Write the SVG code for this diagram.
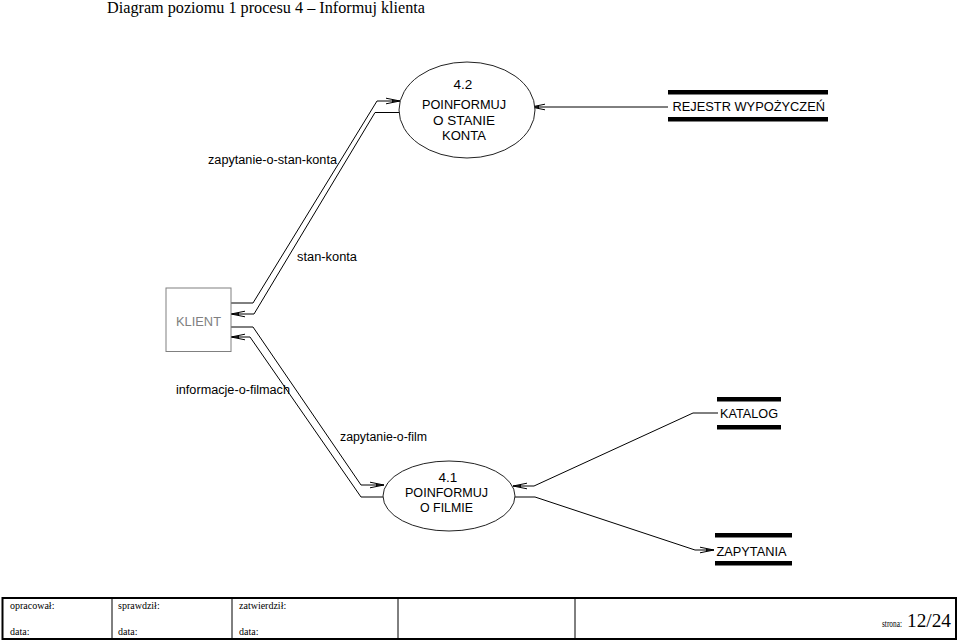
<svg xmlns="http://www.w3.org/2000/svg" width="960" height="641" viewBox="0 0 960 641">
<style>
.lbl{font-family:"Liberation Sans",Arial,sans-serif;font-size:12px;fill:#000}
.nt{font-family:"Liberation Sans",Arial,sans-serif;font-size:13.5px;fill:#000;text-anchor:middle}
.st{font-family:"Liberation Sans",Arial,sans-serif;font-size:12.5px;fill:#000}
.ft{font-family:"Liberation Serif","Times New Roman",serif;font-size:10px;fill:#000}
.flow{fill:none;stroke:#000;stroke-width:1}
.bar{fill:#000}
.proc{fill:#fff;stroke:#222;stroke-width:1}
</style>
<defs>
<marker id="arr" markerUnits="userSpaceOnUse" markerWidth="16" markerHeight="8" viewBox="0 0 16 8" refX="15" refY="4" orient="auto">
<path d="M1,1.2 L15,4 L1,6.8" fill="none" stroke="#000" stroke-width="1"/>
<path d="M7,3 L15,4 L7,5 z" fill="#000"/>
</marker>
</defs>
<rect width="960" height="641" fill="#fff"/>
<text x="107" y="13" font-family="'Liberation Serif','Times New Roman',serif" font-size="16" fill="#000" textLength="318" lengthAdjust="spacingAndGlyphs">Diagram poziomu 1 procesu 4 – Informuj klienta</text>

<g id="connectors">
<polyline class="flow" points="231,303 253,303 377,101 400,101" marker-end="url(#arr)"/>
<polyline class="flow" points="400,112.5 375,112.5 254,314 231,314" marker-end="url(#arr)"/>
<polyline class="flow" points="231,327 253,327 361,485 384,485" marker-end="url(#arr)"/>
<polyline class="flow" points="385,497 361,497 250,337 231,337" marker-end="url(#arr)"/>
<polyline class="flow" points="668,107 531,107" marker-end="url(#arr)"/>
<polyline class="flow" points="718,413 693,413 534,486 513,486" marker-end="url(#arr)"/>
<polyline class="flow" points="513,497 535,497 695,550 714,550" marker-end="url(#arr)"/>
<text class="lbl" x="208" y="164" textLength="129" lengthAdjust="spacingAndGlyphs">zapytanie-o-stan-konta</text>
<text class="lbl" x="297" y="261" textLength="60" lengthAdjust="spacingAndGlyphs">stan-konta</text>
<text class="lbl" x="176" y="394" textLength="114" lengthAdjust="spacingAndGlyphs">informacje-o-filmach</text>
<text class="lbl" x="340" y="441" textLength="87" lengthAdjust="spacingAndGlyphs">zapytanie-o-film</text>
</g>

<g id="p42">
<ellipse class="proc" cx="467" cy="110" rx="68" ry="48"/>
<text class="nt" x="463" y="89">4.2</text>
<text class="nt" x="464" y="109" textLength="84" lengthAdjust="spacingAndGlyphs">POINFORMUJ</text>
<text class="nt" x="464" y="125" textLength="62" lengthAdjust="spacingAndGlyphs">O STANIE</text>
<text class="nt" x="464" y="140" textLength="44" lengthAdjust="spacingAndGlyphs">KONTA</text>
</g>

<g id="p41">
<ellipse class="proc" cx="449" cy="496" rx="66" ry="35"/>
<text class="nt" x="448" y="482">4.1</text>
<text class="nt" x="446.5" y="497" textLength="83" lengthAdjust="spacingAndGlyphs">POINFORMUJ</text>
<text class="nt" x="446.5" y="512" textLength="53" lengthAdjust="spacingAndGlyphs">O FILMIE</text>
</g>

<g id="klient">
<rect x="166" y="288" width="65" height="63.5" fill="#fff" stroke="#808080" stroke-width="1"/>
<text x="176" y="325.5" font-family="'Liberation Sans',Arial,sans-serif" font-size="13" fill="#808080" textLength="45" lengthAdjust="spacingAndGlyphs">KLIENT</text>
</g>

<g id="rejestr">
<rect class="bar" x="668" y="90" width="160" height="4.5"/>
<rect class="bar" x="668" y="117" width="160" height="4.5"/>
<text class="st" x="672.5" y="110.7" textLength="152.5" lengthAdjust="spacingAndGlyphs">REJESTR WYPOŻYCZEŃ</text>
</g>

<g id="katalog">
<rect class="bar" x="717" y="397" width="64" height="4.5"/>
<rect class="bar" x="717" y="425" width="64" height="4.5"/>
<text class="st" x="720" y="418" textLength="58" lengthAdjust="spacingAndGlyphs">KATALOG</text>
</g>

<g id="zapytania">
<rect class="bar" x="715" y="533" width="77" height="4.5"/>
<rect class="bar" x="715" y="561" width="77" height="4.5"/>
<text class="st" x="716.5" y="555.5" textLength="70" lengthAdjust="spacingAndGlyphs">ZAPYTANIA</text>
</g>

<g id="footer">
<rect x="2.5" y="598" width="953.5" height="41" fill="none" stroke="#000" stroke-width="2"/>
<line x1="112" y1="598" x2="112" y2="639" stroke="#000" stroke-width="1"/>
<line x1="232" y1="598" x2="232" y2="639" stroke="#000" stroke-width="1"/>
<line x1="398" y1="598" x2="398" y2="639" stroke="#000" stroke-width="1"/>
<line x1="575" y1="598" x2="575" y2="639" stroke="#000" stroke-width="1"/>
<text class="ft" x="10" y="608.5">opracował:</text>
<text class="ft" x="118" y="608.5">sprawdził:</text>
<text class="ft" x="239" y="608.5">zatwierdził:</text>
<text class="ft" x="10" y="635">data:</text>
<text class="ft" x="118" y="635">data:</text>
<text class="ft" x="239" y="635">data:</text>
<text class="ft" x="882" y="627" textLength="20" lengthAdjust="spacingAndGlyphs">strona:</text>
<text x="907" y="627" font-family="'Liberation Serif','Times New Roman',serif" font-size="18.5" fill="#000" textLength="44" lengthAdjust="spacingAndGlyphs">12/24</text>
</g>
</svg>
